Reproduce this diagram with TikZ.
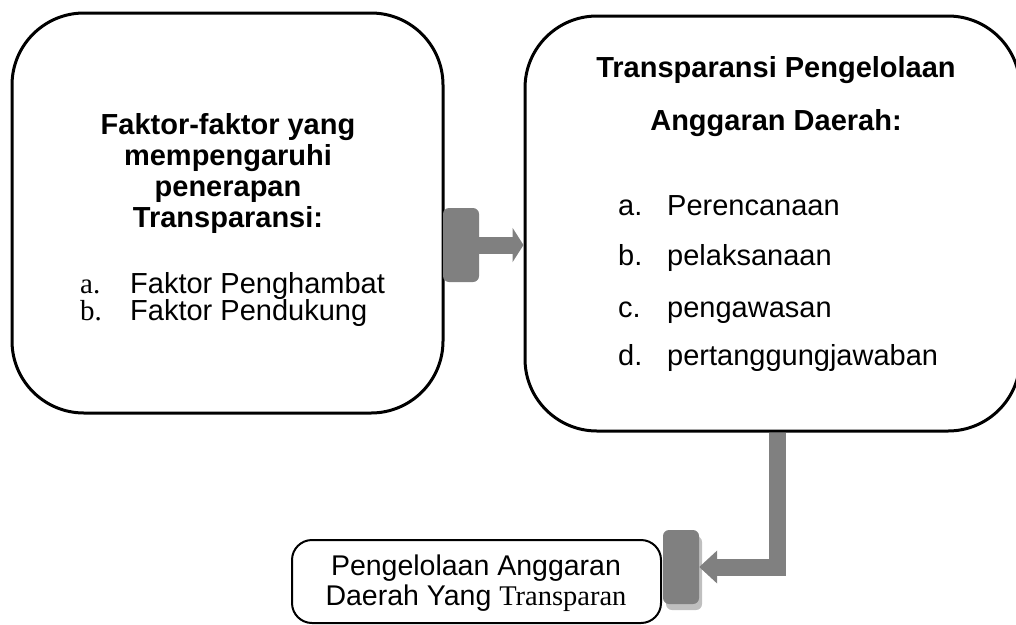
\documentclass[tikz,border=0pt]{standalone}
\usepackage{fontspec}
\setmainfont{Liberation Sans}
\newfontfamily\serifhuruf{Liberation Serif}
\usetikzlibrary{arrows.meta,shadows}

\tikzset{
  kotak/.style={draw, line width=3pt, rounded corners=72pt, inner sep=0pt},
  tab/.style={fill=gray, rounded corners=6pt, inner sep=0pt, minimum width=36pt, minimum height=74pt},
  panah/.style={draw=gray, line width=17pt},
  judul/.style={font=\fontsize{29}{31}\selectfont\bfseries, align=center, anchor=base},
  isi/.style={font=\fontsize{29}{31}\selectfont, anchor=base west, inner sep=0pt},
}

\begin{document}
\begin{tikzpicture}[x=1pt, y=-1pt]
            \useasboundingbox (0,0) rectangle (1016,624);
            \clip (0,0) rectangle (1016,624);

            % kotak
            \node [kotak, minimum width=431pt, minimum height=400pt] (faktor) at (227.5,213) {};
            \node [kotak, minimum width=495pt, minimum height=415pt] (kelola) at (772.5,223.5) {};
            \node [draw, line width=2pt, rounded corners=20pt, minimum width=369pt, minimum height=83pt] (hasil) at (476.5,581.5) {};

            % teks kiri (base = baris terakhir)
            \node [judul] (judulkiri) at (228,227) {Faktor-faktor yang\\mempengaruhi\\penerapan\\Transparansi:};
            \node [isi] (hurufa) at (80,293) {\serifhuruf a.};
            \node [isi] (hambat) at (130,293) {Faktor Penghambat};
            \node [isi] (hurufb) at (80,320) {\serifhuruf b.};
            \node [isi] (dukung) at (130,320) {Faktor Pendukung};

            % teks kanan
            \node [judul, font=\fontsize{29}{53}\selectfont\bfseries] (judulkanan) at (776,130) {Transparansi Pengelolaan\\Anggaran Daerah:};
            \node [isi] (ka) at (618,215) {a.};
            \node [isi] (rencana) at (667,215) {Perencanaan};
            \node [isi] (kb) at (618,265) {b.};
            \node [isi] (laksana) at (667,265) {pelaksanaan};
            \node [isi] (kc) at (618,317) {c.};
            \node [isi] (awas) at (667,317) {pengawasan};
            \node [isi] (kd) at (618,365) {d.};
            \node [isi] (tanggung) at (667,365) {pertanggungjawaban};

            % teks bawah
            \node [font=\fontsize{28.5}{30}\selectfont, align=center, anchor=base] (judulbawah) at (476,605) {Pengelolaan Anggaran\\Daerah Yang {\serifhuruf Transparan}};

            % panah
            \node [tab] (tabkiri) at (461,245) {};
            \node [tab, drop shadow={shadow xshift=3pt, shadow yshift=-6pt, fill=gray!50, opacity=1}] (tabbawah) at (681,567) {};
            \coordinate (belok) at (777,567);
            \draw [panah, -{Triangle[width=34pt,length=11pt]}] (tabkiri.east) -- (tabkiri.east -| kelola.west);
            \draw [panah, -{Triangle[width=32pt,length=18pt]}] (kelola.south -| belok) |- (tabbawah.east);
\end{tikzpicture}
\end{document}
